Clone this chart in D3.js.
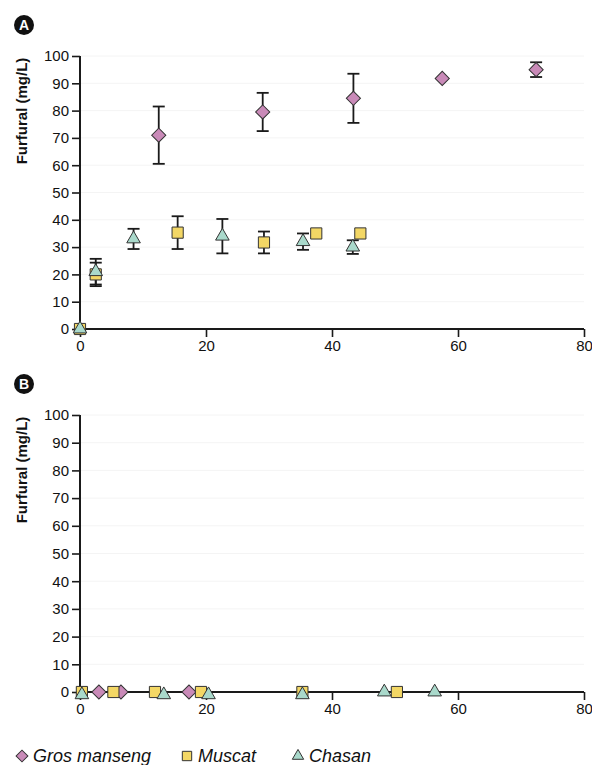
<!DOCTYPE html>
<html>
<head>
<meta charset="utf-8">
<script src="https://cdn.jsdelivr.net/npm/d3@7"></script>
<style>
body { margin: 0; background: #fff; }
svg { font-family: "Liberation Sans", Arial, sans-serif; }
</style>
</head>
<body>
<script>
// data: [time, furfural, error]
var grosA = [[12.5, 71, 10.5], [29, 79.5, 7], [43.4, 84.5, 9], [57.5, 91.8, 0], [72.4, 95, 2.7]];
var muscatA = [[0, 0, 0], [2.5, 20, 4.3], [15.5, 35.3, 6], [29.2, 31.7, 4], [37.5, 35, 0], [44.5, 35, 0]];
var chasanA = [[0, 0, 0], [2.5, 21, 4.7], [8.5, 33, 3.7], [22.6, 34, 6.3], [35.4, 32, 3], [43.3, 30, 2.5]];

var grosB = [[3, 0, 0], [6.5, 0, 0], [17.3, 0, 0]];
var muscatB = [[0.3, 0, 0], [5.3, 0, 0], [11.9, 0, 0], [19.2, 0, 0], [35.3, 0, 0], [50.3, 0, 0]];
var chasanB = [[0.3, -1, 0], [13.3, -1, 0], [20.4, -1, 0], [35.3, -1, 0], [48.3, 0, 0], [56.3, 0, 0]];

var xTicks = [0, 20, 40, 60, 80];
var yTicks = [0, 10, 20, 30, 40, 50, 60, 70, 80, 90, 100];
var seriesNames = ["Gros manseng", "Muscat", "Chasan"];

var W = 592, H = 765;
var svg = d3.select("body").append("svg").attr("width", W).attr("height", H);

var x = d3.scaleLinear().domain([0, 80]).range([80, 584]);

// diamond = square turned 45deg
var styles = [
    {sym: d3.symbolSquare, size: 100, rot: 45, fill: "#c98ab8"},
    {sym: d3.symbolSquare, size: 125, rot: 0, fill: "#f3d765"},
    {sym: d3.symbolTriangle, size: 80, rot: 0, fill: "#a9d9cb"}
];

function panel(letter, top, bottom, sets){
    var y = d3.scaleLinear().domain([0, 100]).range([bottom, top]);
    var g = svg.append("g");

    // faint grid
    g.selectAll("line.grid").data(yTicks.slice(1)).enter().append("line")
        .attr("x1", x(0)).attr("x2", x(80))
        .attr("y1", function(d){ return y(d); }).attr("y2", function(d){ return y(d); })
        .attr("stroke", "#f4f4f4").attr("stroke-width", 1);

    var ya = g.append("g").attr("transform", "translate(" + x(0) + ",0)")
        .call(d3.axisLeft(y).tickValues(yTicks).tickSize(8).tickPadding(3));
    var xa = g.append("g").attr("transform", "translate(0," + y(0) + ")")
        .call(d3.axisBottom(x).tickValues(xTicks).tickSize(8).tickPadding(3));
    [ya, xa].forEach(function(a){
        a.select(".domain").attr("stroke", "#1a1a1a").attr("stroke-width", 2);
        a.selectAll(".tick line").attr("stroke", "#1a1a1a").attr("stroke-width", 1.6);
        a.selectAll("text").attr("font-size", 15).attr("fill", "#111");
    });
    ya.select(".domain").attr("d", "M0," + y(0) + "V" + y(100));
    xa.select(".domain").attr("d", "M" + x(0) + ",0H" + x(80));

    g.append("text")
        .attr("transform", "translate(27," + (top + 55) + ") rotate(-90)")
        .attr("text-anchor", "middle")
        .attr("font-size", 15).attr("font-weight", "bold").attr("fill", "#111")
        .text("Furfural (mg/L)");

    g.append("circle").attr("cx", 24).attr("cy", top - 31).attr("r", 10).attr("fill", "#111");
    g.append("text").attr("x", 24).attr("y", top - 26)
        .attr("text-anchor", "middle").attr("font-size", 14).attr("font-weight", "bold")
        .attr("fill", "#fff").text(letter);

    sets.forEach(function(data, i){
        var eb = g.append("g");
        data.filter(function(d){ return d[2] > 0; }).forEach(function(d){
            var y1 = y(d[1] + d[2]), y2 = y(d[1] - d[2]), cx = x(d[0]);
            eb.append("line").attr("x1", cx).attr("x2", cx).attr("y1", y1).attr("y2", y2)
                .attr("stroke", "#1a1a1a").attr("stroke-width", 1.8);
            [y1, y2].forEach(function(yy){
                eb.append("line").attr("x1", cx - 6).attr("x2", cx + 6).attr("y1", yy).attr("y2", yy)
                    .attr("stroke", "#1a1a1a").attr("stroke-width", 1.8);
            });
        });
    });
    sets.forEach(function(data, i){
        var st = styles[i];
        g.selectAll("path.s" + i).data(data).enter().append("path")
            .attr("d", d3.symbol().type(st.sym).size(st.size))
            .attr("transform", function(d){ return "translate(" + x(d[0]) + "," + y(d[1]) + ") rotate(" + st.rot + ")"; })
            .attr("fill", st.fill).attr("stroke", "#333").attr("stroke-width", 1);
    });
}

panel("A", 56, 329, [grosA, muscatA, chasanA]);
panel("B", 415, 692, [grosB, muscatB, chasanB]);

// legend
var legX = [22, 187, 298];
var leg = svg.append("g");
seriesNames.forEach(function(n, i){
    var st = styles[i];
    leg.append("path").attr("d", d3.symbol().type(st.sym).size(st.size * 0.7))
        .attr("transform", "translate(" + legX[i] + ",756) rotate(" + st.rot + ")")
        .attr("fill", st.fill).attr("stroke", "#333").attr("stroke-width", 1);
    leg.append("text").attr("x", legX[i] + 11).attr("y", 762)
        .attr("font-size", 18).attr("font-style", "italic").attr("fill", "#111").text(n);
});
</script>
</body>
</html>
